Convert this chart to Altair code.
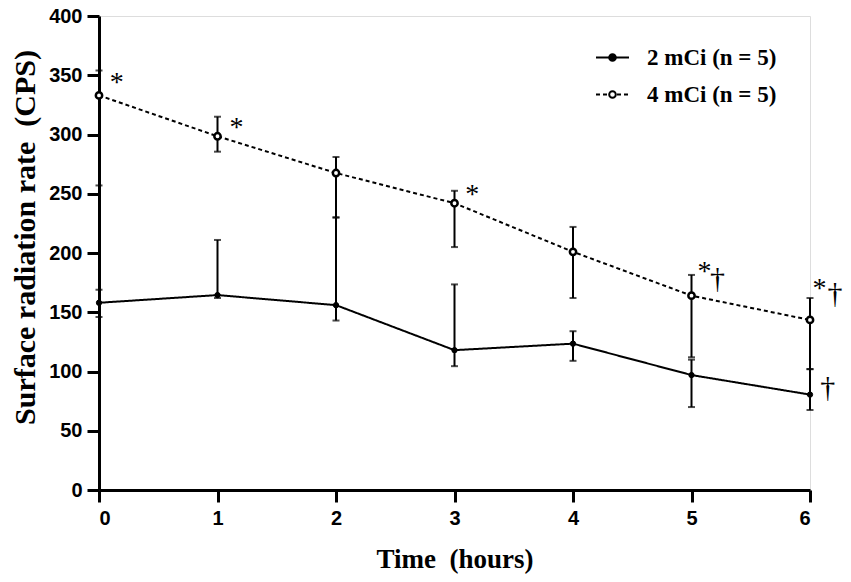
import altair as alt
import pandas as pd

# ---- data ----
hours = [0, 1, 2, 3, 4, 5, 6]
series_names = ["2 mCi (n = 5)", "4 mCi (n = 5)"]
series_keys = ["s2", "s4"]

m2_mean = [158, 164.5, 156, 118, 123.5, 97, 80.5]
m2_lo = [146, 162, 143, 104.5, 109, 70, 67.5]
m2_hi = [169, 211, 230, 173.5, 134, 110, 102]

m4_mean = [333, 298.5, 267.5, 242, 201, 164, 143.5]
m4_lo = [257, 285.5, 230, 205, 162, 112, 102]
m4_hi = [354, 315, 281, 252.5, 222, 181.5, 162]

# significance marks (anchor in data units)
star_x = [0.15, 1.16, 3.15, 5.11, 6.08]
star_y = [347, 309, 252, 187, 173]
dag_x = [5.22, 6.21, 6.15]
dag_y = [178, 165, 86]

rows = []
for name, key, mean, lo, hi in [(series_names[0], series_keys[0], m2_mean, m2_lo, m2_hi),
                                (series_names[1], series_keys[1], m4_mean, m4_lo, m4_hi)]:
    for t, m, l, h in zip(hours, mean, lo, hi):
        rows.append({"t": t, "series": name, "key": key,
                     "mean": m, "lo": l, "hi": h})
df = pd.DataFrame(rows)

star_df = pd.DataFrame({"x": star_x, "y": star_y, "label": ["*"] * len(star_x)})
dag_df = pd.DataFrame({"x": dag_x, "y": dag_y, "label": ["\u2020"] * len(dag_x)})

xs = alt.Scale(domain=[0, 6], nice=False, zero=False)
ys = alt.Scale(domain=[0, 400], nice=False)

axis_common = dict(
    domainColor="black", domainWidth=3, tickColor="black", tickWidth=3,
    tickSize=12, labelFont="Liberation Sans", labelFontWeight="bold",
    labelFontSize=20, labelColor="black", grid=False,
    titleFont="Liberation Serif", titleFontWeight="bold", titleColor="black",
)

x_axis = alt.Axis(values=hours, format="d", labelPadding=6,
                  title="Time\u00a0 (hours)", titleFontSize=27,
                  titleBaseline="alphabetic", titleY=77, **axis_common)
y_axis = alt.Axis(values=[0, 50, 100, 150, 200, 250, 300, 350, 400],
                  labelPadding=5,
                  title="Surface radiation rate\u00a0 (CPS)", titleFontSize=30,
                  titleBaseline="middle", titleX=-74, titleY=221, titleAngle=270,
                  **axis_common)


def X(field):
    return alt.X(field, scale=xs, axis=x_axis)


def Y(field):
    return alt.Y(field, scale=ys, axis=y_axis)


base = alt.Chart(df)

legend_common = dict(
    title=None, orient="none", legendX=496, legendY=24, direction="vertical",
    symbolSize=1089, symbolStrokeWidth=2, symbolStrokeColor="black",
    labelFont="Liberation Serif", labelFontWeight="bold", labelFontSize=23,
    labelColor="black", labelOffset=17, rowPadding=7, padding=0,
)

lines = base.mark_line(color="black", strokeWidth=2).encode(
    x=X("t:Q"),
    y=Y("mean:Q"),
    strokeDash=alt.StrokeDash(
        "series:N",
        scale=alt.Scale(domain=series_names, range=[[1, 0], [4, 3]]),
        legend=alt.Legend(symbolType="stroke", zindex=1, **legend_common),
    ),
)

err = base.mark_errorbar(ticks=True, size=7, thickness=2, color="black").encode(
    x=X("t:Q"),
    y=Y("lo:Q"),
    y2="hi:Q",
)

circle_path = "M0.2,0A0.2,0.2 0 1 1 -0.2,0A0.2,0.2 0 1 1 0.2,0Z"

fill_enc = alt.Fill(
    "key:N",
    scale=alt.Scale(domain=series_keys, range=["black", "white"]),
    legend=alt.Legend(symbolType=circle_path, symbolOpacity=1, labelExpr="''",
                      zindex=2, **legend_common),
)

points2 = base.transform_filter(alt.datum.key == series_keys[0]).mark_point(
    shape="circle", filled=True, stroke="black", strokeWidth=1, size=28, opacity=1
).encode(x=X("t:Q"), y=Y("mean:Q"), fill=fill_enc)

points4 = base.transform_filter(alt.datum.key == series_keys[1]).mark_point(
    shape="circle", filled=True, stroke="black", strokeWidth=2.5, size=40, opacity=1
).encode(x=X("t:Q"), y=Y("mean:Q"), fill=fill_enc)

stars = alt.Chart(star_df).mark_text(
    font="Liberation Serif", fontSize=28, align="center", baseline="middle",
    color="black", dy=4,
).encode(
    x=X("x:Q"),
    y=Y("y:Q"),
    text="label:N",
)

daggers = alt.Chart(dag_df).mark_text(
    font="Liberation Serif", fontSize=30, align="center", baseline="middle",
    color="black",
).encode(
    x=X("x:Q"),
    y=Y("y:Q"),
    text="label:N",
)

chart = alt.layer(lines, err, points2, points4, stars, daggers).properties(
    width=711, height=474,
    autosize=alt.AutoSizeParams(type="none"),
    padding={"left": 91, "top": 8, "right": 33, "bottom": 84},
).configure_view(strokeWidth=0).configure(background="white")

chart.save("out.html", embed_options={"renderer": "svg", "actions": False})
